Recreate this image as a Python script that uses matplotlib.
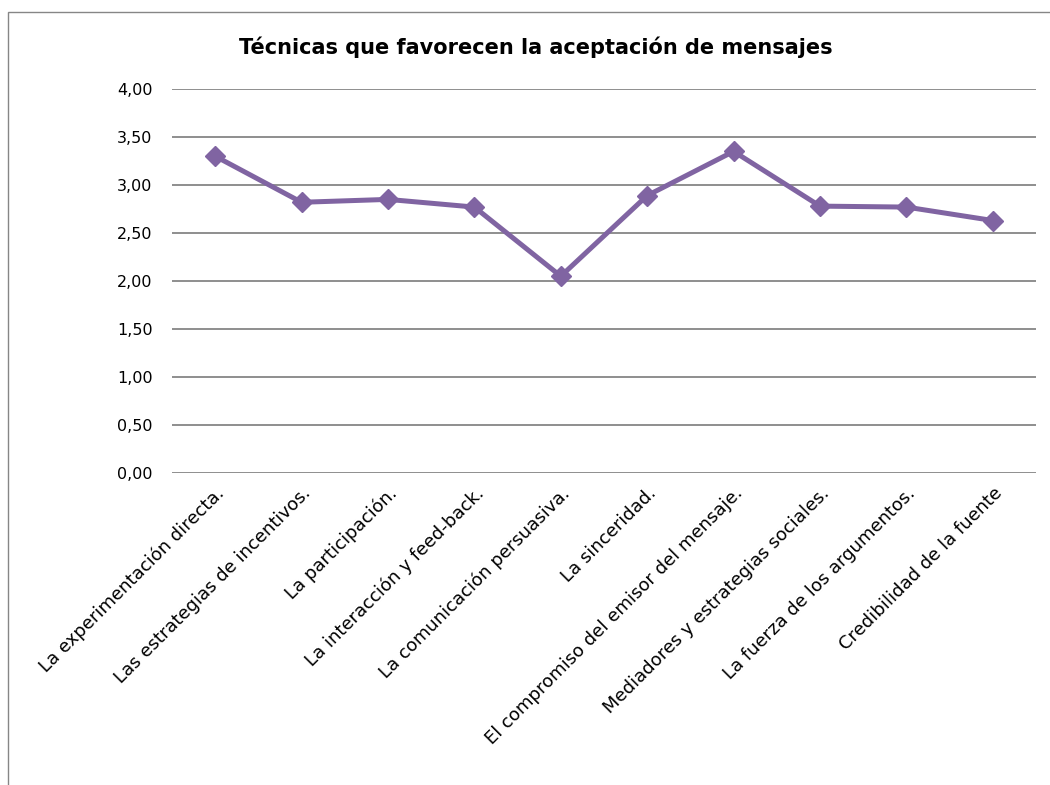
import matplotlib
matplotlib.use("Agg")
import matplotlib.pyplot as plt
from matplotlib.patches import Rectangle
from matplotlib.ticker import FuncFormatter

title = "Técnicas que favorecen la aceptación de mensajes"
categories = [
    "La experimentación directa.",
    "Las estrategias de incentivos.",
    "La participación.",
    "La interacción y feed-back.",
    "La comunicación persuasiva.",
    "La sinceridad.",
    "El compromiso del emisor del mensaje.",
    "Mediadores y estrategias sociales.",
    "La fuerza de los argumentos.",
    "Credibilidad de la fuente",
]
values = [3.30, 2.82, 2.85, 2.77, 2.05, 2.89, 3.35, 2.78, 2.77, 2.63]
yticks = [0.0, 0.5, 1.0, 1.5, 2.0, 2.5, 3.0, 3.5, 4.0]

plt.rcParams['font.family'] = ['DejaVu Sans']

W, H = 1050, 785
fig = plt.figure(figsize=(W / 100, H / 100), dpi=100)

# outer chart border (cropped at right and bottom)
fig.patches.append(Rectangle((8 / W, -0.05), 1.1, 1 - 12 / H + 0.05,
                             transform=fig.transFigure, fill=False,
                             edgecolor='#868686', linewidth=1.0))

left, right = 172 / W, 1036 / W
bottom, top = 1 - 473 / H, 1 - 89 / H
ax = fig.add_axes([left, bottom, right - left, top - bottom])

x = list(range(len(categories)))
ax.plot(x, values, color='#8064A2', linewidth=3.6, marker='D',
        markersize=10, markerfacecolor='#8064A2', markeredgecolor='#8064A2',
        zorder=3)

ax.set_xlim(-0.5, len(categories) - 0.5)
ax.set_ylim(0, 4)
ax.set_yticks(yticks)
ax.yaxis.set_major_formatter(FuncFormatter(lambda v, p: f"{v:.2f}".replace('.', ',')))
ax.grid(axis='y', color='#868686', linewidth=1.3)
ax.set_axisbelow(True)
for s in ax.spines.values():
    s.set_visible(False)
ax.tick_params(axis='both', length=0, labelsize=11.5, colors='black')
ax.tick_params(axis='y', pad=14)

ax.set_xticks(x)
ax.set_xticklabels(categories, rotation=45, ha='right', rotation_mode='anchor',
                   fontsize=13)
ax.tick_params(axis='x', pad=8)

fig.text(536 / W, 1 - 47 / H, title, ha='center', va='center',
         fontsize=15, fontweight='bold')

fig.savefig('out.png', dpi=100)
